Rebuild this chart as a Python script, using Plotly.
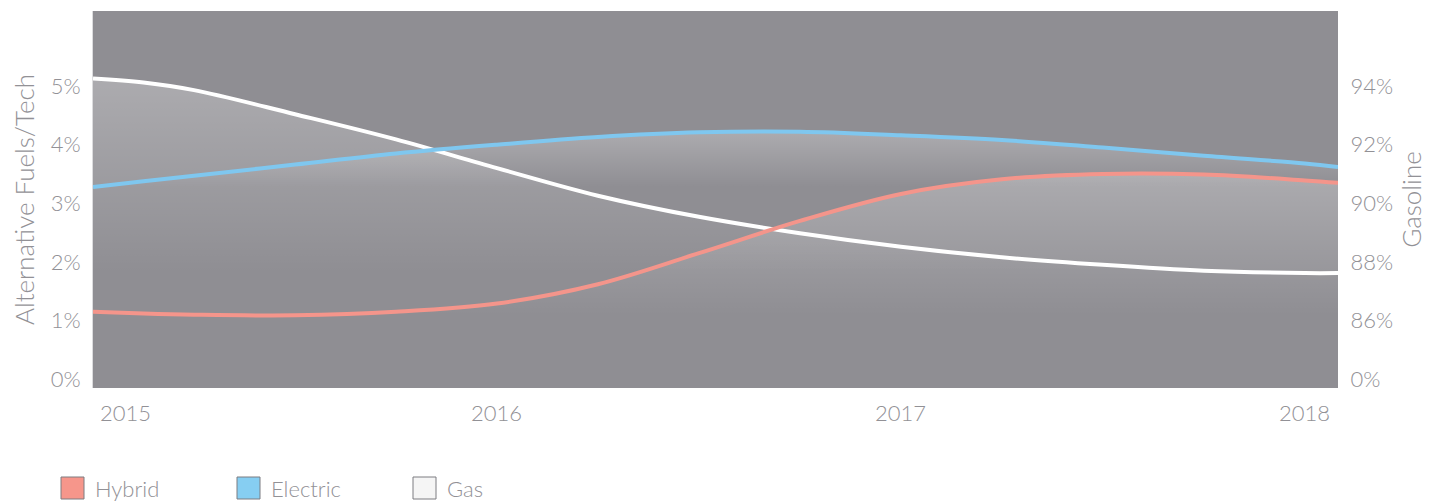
import plotly.graph_objects as go

# ---------------- data ----------------
years = [2015.0, 2015.125, 2015.25, 2015.5, 2015.75, 2016.0, 2016.25, 2016.5, 2016.75,
         2017.0, 2017.25, 2017.5, 2017.75, 2018.0, 2018.082]
hybrid = [1.15, 1.12, 1.10, 1.09, 1.15, 1.29, 1.62, 2.15, 2.70, 3.16, 3.41, 3.50, 3.49, 3.39, 3.35]
electric = [3.28, 3.375, 3.47, 3.66, 3.85, 4.00, 4.13, 4.21, 4.22, 4.16, 4.08, 3.95, 3.81, 3.68, 3.62]
gasoline = [94.26, 94.12, 93.86, 93.04, 92.18, 91.20, 90.26, 89.54, 88.98, 88.52, 88.16, 87.90, 87.70, 87.62, 87.62]

series_names = ["Hybrid", "Electric", "Gas"]
line_colors = ["#f4958b", "#7fc7ef", "#ffffff"]
swatch_colors = ["#f6968b", "#86cef2", "#f5f5f5"]

year_labels = [2015, 2016, 2017, 2018]
left_tick_vals = [0, 1, 2, 3, 4, 5]
left_tick_text = ["0%", "1%", "2%", "3%", "4%", "5%"]
right_tick_vals = [84, 86, 88, 90, 92, 94]
right_tick_text = ["0%", "86%", "88%", "90%", "92%", "94%"]

# axis relationship (right axis = GAS_BASE + GAS_PER_UNIT * left axis)
Y_RANGE = [-0.15, 6.28]
GAS_BASE = 84
GAS_PER_UNIT = 2
Y2_RANGE = [GAS_BASE + GAS_PER_UNIT * Y_RANGE[0], GAS_BASE + GAS_PER_UNIT * Y_RANGE[1]]
X_RANGE = [years[0], years[-1]]

TEXT = "#929196"
FONT = "Lato"
GRAD = [[0, "rgba(255,255,255,0)"], [1, "rgba(255,255,255,0.26)"]]

fig = go.Figure()

# soft gradient fills under each line
for vals, ax in [(hybrid, "y"), (electric, "y"), (gasoline, "y2")]:
    fig.add_trace(go.Scatter(
        x=years, y=vals, yaxis=ax, mode="lines",
        line=dict(width=0, shape="spline"),
        fill="tozeroy",
        fillgradient=dict(type="vertical", start=min(vals), stop=max(vals), colorscale=GRAD),
        hoverinfo="skip", showlegend=False))

# gas line (right axis)
fig.add_trace(go.Scatter(x=years, y=gasoline, yaxis="y2", mode="lines", name=series_names[2],
                         line=dict(color=line_colors[2], width=4, shape="spline"), showlegend=False))
# hybrid / electric lines on top
fig.add_trace(go.Scatter(x=years, y=hybrid, yaxis="y3", mode="lines", name=series_names[0],
                         line=dict(color=line_colors[0], width=4, shape="spline"), showlegend=False))
fig.add_trace(go.Scatter(x=years, y=electric, yaxis="y3", mode="lines", name=series_names[1],
                         line=dict(color=line_colors[1], width=4, shape="spline"), showlegend=False))

annotations = []
for i, yr in enumerate(year_labels):
    first = i == 0
    annotations.append(dict(x=yr, xref="x", y=0, yref="paper", text=str(yr), showarrow=False,
                            xanchor="left" if first else "center", xshift=5 if first else 0,
                            yanchor="middle", yshift=-24,
                            font=dict(family=FONT, size=22, color=TEXT, weight=300)))

shapes = []
legend_x = [-32, 144, 320]
for name, col, lx in zip(series_names, swatch_colors, legend_x):
    shapes.append(dict(type="rect", xref="paper", yref="paper",
                       xsizemode="pixel", ysizemode="pixel", xanchor=0, yanchor=0,
                       x0=lx, x1=lx + 23, y0=-111, y1=-89,
                       fillcolor=col, line=dict(color="#7d7c81", width=1)))
    annotations.append(dict(x=0, xref="paper", y=0, yref="paper", text=name, showarrow=False,
                            xanchor="left", xshift=lx + 32, yanchor="middle", yshift=-100,
                            font=dict(family=FONT, size=22, color=TEXT, weight=300)))

fig.update_layout(
    width=1441, height=501,
    margin=dict(l=85, r=111, t=3, b=121),
    paper_bgcolor="white", plot_bgcolor="#8f8e93",
    font=dict(family=FONT, size=22, color=TEXT, weight=300),
    showlegend=False,
    xaxis=dict(range=X_RANGE, showgrid=False, zeroline=False, showticklabels=False,
               tickvals=year_labels, ticks=""),
    yaxis=dict(range=Y_RANGE, showgrid=False, zeroline=False,
               tickvals=left_tick_vals, ticktext=left_tick_text,
               ticks="outside", ticklen=7, tickcolor="rgba(0,0,0,0)",
               showline=True, linecolor="#dcdcde", linewidth=1,
               tickfont=dict(family=FONT, size=22, color=TEXT, weight=300),
               title=dict(text="Alternative Fuels/Tech", standoff=17,
                          font=dict(family=FONT, size=26, color=TEXT, weight=300))),
    yaxis2=dict(range=Y2_RANGE, overlaying="y", side="right", showgrid=False, zeroline=False,
                tickvals=right_tick_vals, ticktext=right_tick_text,
                ticks="outside", ticklen=7, tickcolor="rgba(0,0,0,0)",
                tickfont=dict(family=FONT, size=22, color=TEXT, weight=300),
                title=dict(text="Gasoline", standoff=10,
                           font=dict(family=FONT, size=26, color=TEXT, weight=300))),
    yaxis3=dict(overlaying="y", matches="y", visible=False),
    annotations=annotations,
    shapes=shapes,
)

fig.write_html("out.html")
